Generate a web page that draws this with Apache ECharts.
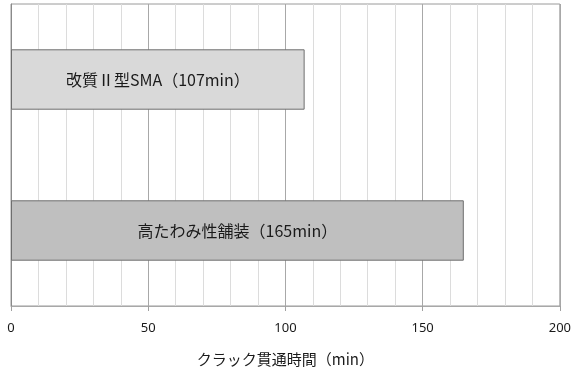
<!DOCTYPE html>
<html>
<head>
<meta charset="utf-8">
<script src="https://cdn.jsdelivr.net/npm/echarts@6/dist/echarts.min.js"></script>
<style>
  html, body { margin: 0; padding: 0; background: #fff; }
  #chart { width: 574px; height: 376px; }
</style>
</head>
<body>
<div id="chart"></div>
<script>
// Pavement types and their crack penetration times (minutes)
const categories = ['改質Ⅱ型SMA', '高たわみ性舗装'];
const penetrationMinutes = [107, 165];
const barColors = ['#d9d9d9', '#bfbfbf'];
const axisTitle = 'クラック貫通時間（min）';

const chart = echarts.init(document.getElementById('chart'), null, { renderer: 'canvas' });

const jpFont = '"Noto Sans CJK JP", "Noto Sans", sans-serif';

chart.setOption({
  animation: false,
  grid: {
    left: 11, right: 14, top: 4, bottom: 70,
    show: true, borderColor: '#9a9a9a', borderWidth: 1,
    containLabel: false
  },
  xAxis: {
    type: 'value',
    min: 0, max: 200, interval: 50,
    name: axisTitle,
    nameLocation: 'middle',
    nameGap: 46,
    nameTextStyle: { fontFamily: jpFont, fontSize: 15, color: '#1a1a1a' },
    axisLine: { show: true, lineStyle: { color: '#a8a8a8', width: 1 } },
    axisTick: { show: true, length: 5, lineStyle: { color: '#a0a0a0' } },
    axisLabel: { margin: 16, fontFamily: '"Noto Sans", sans-serif', fontSize: 13, color: '#1a1a1a' },
    splitLine: { show: true, lineStyle: { color: '#a8a8a8', width: 1 } },
    minorTick: { show: false, splitNumber: 5 },
    minorSplitLine: { show: true, lineStyle: { color: '#dcdcdc', width: 1 } }
  },
  yAxis: {
    type: 'category',
    data: categories,
    inverse: true,
    axisLine: { show: true, lineStyle: { color: '#8a8a8a', width: 1 } },
    axisTick: { show: false },
    axisLabel: { show: false },
    splitLine: { show: false }
  },
  series: [{
    type: 'bar',
    barCategoryGap: '60%',
    data: penetrationMinutes.map((v, i) => ({
      value: v,
      itemStyle: { color: barColors[i], borderColor: '#6e6e6e', borderWidth: 1 }
    })),
    label: {
      show: true,
      position: 'inside',
      fontFamily: jpFont,
      fontSize: 16,
      color: '#1a1a1a',
      formatter: p => `${p.name}（${p.value}min）`
    }
  }]
});
</script>
</body>
</html>
